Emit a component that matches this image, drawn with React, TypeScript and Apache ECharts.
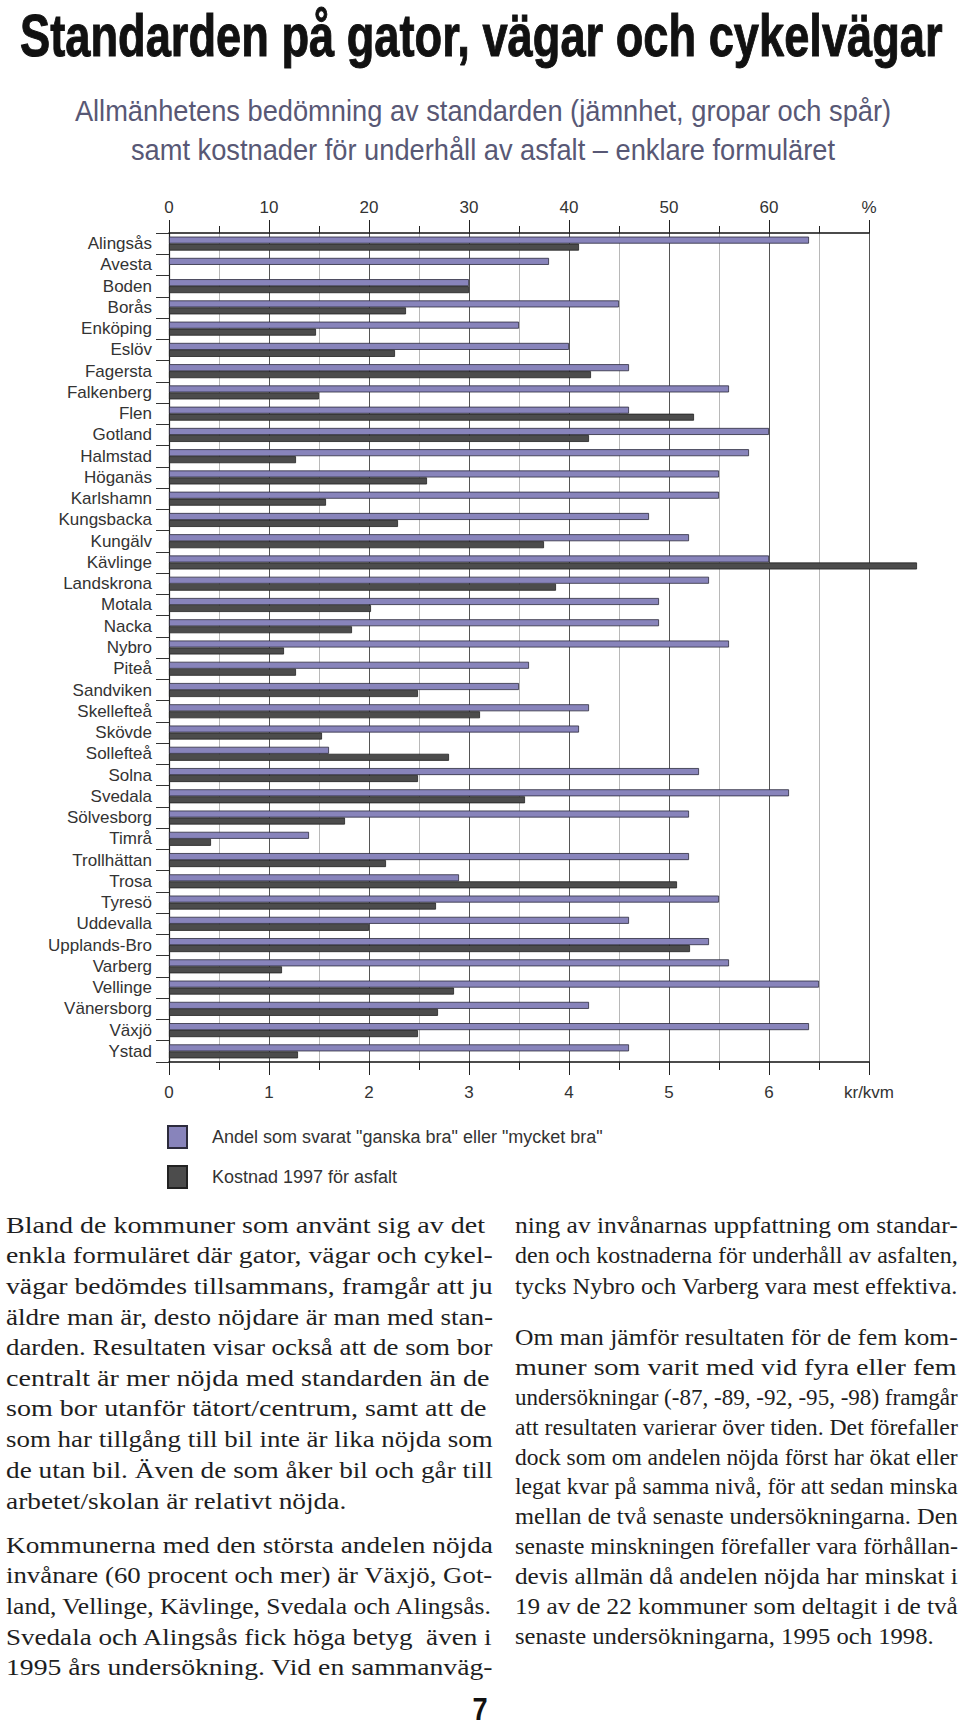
import React, { useEffect, useRef } from "react";
import * as echarts from "echarts";

// ---------------- DATA ----------------
const titleText = "Standarden på gator, vägar och cykelvägar";
const subtitleLines = [
  "Allmänhetens bedömning av standarden (jämnhet, gropar och spår)",
  "samt kostnader för underhåll av asfalt – enklare formuläret",
];

const municipalities = [
  "Alingsås", "Avesta", "Boden", "Borås", "Enköping", "Eslöv", "Fagersta", "Falkenberg",
  "Flen", "Gotland", "Halmstad", "Höganäs", "Karlshamn", "Kungsbacka", "Kungälv", "Kävlinge",
  "Landskrona", "Motala", "Nacka", "Nybro", "Piteå", "Sandviken", "Skellefteå", "Skövde",
  "Sollefteå", "Solna", "Svedala", "Sölvesborg", "Timrå", "Trollhättan", "Trosa", "Tyresö",
  "Uddevalla", "Upplands-Bro", "Varberg", "Vellinge", "Vänersborg", "Växjö", "Ystad",
];

// Andel som svarat "ganska bra" eller "mycket bra" (%)
const shareSatisfied = [
  64, 38, 30, 45, 35, 40, 46, 56,
  46, 60, 58, 55, 55, 48, 52, 60,
  54, 49, 49, 56, 36, 35, 42, 41,
  16, 53, 62, 52, 14, 52, 29, 55,
  46, 54, 56, 65, 42, 64, 46,
];

// Kostnad 1997 för asfalt (kr/kvm)
const asphaltCost1997 = [
  4.1, null, 3.0, 2.37, 1.47, 2.26, 4.22, 1.5,
  5.25, 4.2, 1.27, 2.58, 1.57, 2.29, 3.75, 7.48,
  3.87, 2.02, 1.83, 1.15, 1.27, 2.49, 3.11, 1.53,
  2.8, 2.49, 3.56, 1.76, 0.42, 2.17, 5.08, 2.67,
  2.0, 5.21, 1.13, 2.85, 2.69, 2.49, 1.29,
];

const seriesNames = [
  'Andel som svarat "ganska bra" eller "mycket bra"',
  "Kostnad 1997 för asfalt",
];
const percentUnit = "%";
const costUnit = "kr/kvm";

const leftParagraphs = [
  [
    "Bland de kommuner som använt sig av det",
    "enkla formuläret där gator, vägar och cykel-",
    "vägar bedömdes tillsammans, framgår att ju",
    "äldre man är, desto nöjdare är man med stan-",
    "darden. Resultaten visar också att de som bor",
    "centralt är mer nöjda med standarden än de",
    "som bor utanför tätort/centrum, samt att de",
    "som har tillgång till bil inte är lika nöjda som",
    "de utan bil. Även de som åker bil och går till",
    "arbetet/skolan är relativt nöjda.",
  ],
  [
    "Kommunerna med den största andelen nöjda",
    "invånare (60 procent och mer) är Växjö, Got-",
    "land, Vellinge, Kävlinge, Svedala och Alingsås.",
    "Svedala och Alingsås fick höga betyg  även i",
    "1995 års undersökning. Vid en sammanväg-",
  ],
];
const rightParagraphs = [
  [
    "ning av invånarnas uppfattning om standar-",
    "den och kostnaderna för underhåll av asfalten,",
    "tycks Nybro och Varberg vara mest effektiva.",
  ],
  [
    "Om man jämför resultaten för de fem kom-",
    "muner som varit med vid fyra eller fem",
    "undersökningar (-87, -89, -92, -95, -98) framgår",
    "att resultaten varierar över tiden. Det förefaller",
    "dock som om andelen nöjda först har ökat eller",
    "legat kvar på samma nivå, för att sedan minska",
    "mellan de två senaste undersökningarna. Den",
    "senaste minskningen förefaller vara förhållan-",
    "devis allmän då andelen nöjda har minskat i",
    "19 av de 22 kommuner som deltagit i de två",
    "senaste undersökningarna, 1995 och 1998.",
  ],
];
const pageNumber = "7";

// ---------------- STYLE ----------------
const SANS = '"Liberation Sans", Arial, sans-serif';
const SERIF = '"Liberation Serif", "Times New Roman", serif';
const PURPLE = "#8884bb";
const DARK = "#4c4c4c";

function measurer() {
  const c = document.createElement("canvas");
  const ctx = c.getContext("2d") as CanvasRenderingContext2D;
  return (text: string, font: string) => {
    ctx.font = font;
    return ctx.measureText(text).width;
  };
}

export default function App() {
  const ref = useRef<HTMLDivElement>(null);

  useEffect(() => {
    document.body.style.margin = "0";
    if (!ref.current) return;
    const chart = echarts.init(ref.current, undefined, { renderer: "svg" });
    const measure = measurer();

    const graphics: any[] = [];

    // Title
    const titleSize = 60;
    const titleFont = `bold ${titleSize}px ${SANS}`;
    const titleScale = 923 / measure(titleText, titleFont);
    graphics.push({
      type: "text",
      x: 20,
      y: 35,
      scaleX: titleScale,
      style: {
        text: titleText,
        fontFamily: SANS,
        fontSize: titleSize,
        fontWeight: "bold",
        fill: "#111",
        stroke: "#111",
        lineWidth: 1,
        textAlign: "left",
        textVerticalAlign: "middle",
        align: "left",
        verticalAlign: "middle",
      },
    });

    // Subtitle
    const subSize = 29;
    const subFont = `${subSize}px ${SANS}`;
    const subScale = 817 / measure(subtitleLines[0], subFont);
    const subY = [111, 150];
    subtitleLines.forEach((t, i) => {
      graphics.push({
        type: "text",
        x: 483,
        y: subY[i],
        scaleX: subScale,
        style: {
          text: t,
          fontFamily: SANS,
          fontSize: subSize,
          fill: "#585875",
          textAlign: "center",
          textVerticalAlign: "middle",
          align: "center",
          verticalAlign: "middle",
        },
      });
    });

    // Body text columns
    const bodySize = 23;
    const bodyFont = `${bodySize}px ${SERIF}`;
    const addColumn = (
      paras: string[][],
      x: number,
      width: number,
      starts: number[],
      steps: number[],
      lastJustified: boolean[]
    ) => {
      const scales: number[] = [];
      paras.forEach((p, pi) =>
        p.forEach((line, li) => {
          const last = li === p.length - 1 && !lastJustified[pi];
          if (!last) scales.push(width / measure(line, bodyFont));
        })
      );
      const avg = scales.reduce((a, b) => a + b, 0) / scales.length;
      paras.forEach((p, pi) =>
        p.forEach((line, li) => {
          const last = li === p.length - 1 && !lastJustified[pi];
          let s = last ? avg : width / measure(line, bodyFont);
          s = Math.max(0.85, Math.min(1.22, s));
          graphics.push({
            type: "text",
            x,
            y: starts[pi] + li * steps[pi],
            scaleX: s,
            style: {
              text: line,
              fontFamily: SERIF,
              fontSize: bodySize,
              fill: "#1e1e1e",
              textAlign: "left",
              textVerticalAlign: "middle",
              align: "left",
              verticalAlign: "middle",
            },
          });
        })
      );
    };
    addColumn(leftParagraphs, 6, 487, [1225, 1545], [30.6, 30.6], [false, true]);
    addColumn(rightParagraphs, 515, 443, [1225, 1337], [30.6, 29.9], [true, false]);

    graphics.push({
      type: "text",
      x: 480,
      y: 1709,
      scaleX: 0.85,
      style: {
        text: pageNumber,
        fontFamily: SANS,
        fontSize: 32,
        fontWeight: "bold",
        fill: "#111",
        textAlign: "center",
        textVerticalAlign: "middle",
        align: "center",
        verticalAlign: "middle",
      },
    });

    const axisText = { fontFamily: SANS, fontSize: 17, color: "#333" };

    const option: any = {
      animation: false,
      backgroundColor: "#ffffff",
      grid: { left: 169, right: 91, top: 233, bottom: 668, containLabel: false },
      legend: {
        orient: "vertical",
        left: 162,
        top: 1120,
        itemWidth: 19,
        itemHeight: 22,
        itemGap: 16,
        icon: "rect",
        selectedMode: false,
        data: seriesNames,
        textStyle: { fontFamily: SANS, fontSize: 18, color: "#333", padding: [0, 0, 0, 20] },
      },
      xAxis: [
        {
          type: "value",
          position: "bottom",
          min: 0,
          max: 7,
          interval: 1,
          axisLine: { show: true, onZero: false, lineStyle: { color: "#111", width: 1.5 } },
          axisTick: { show: true, length: 13, lineStyle: { color: "#222" } },
          minorTick: { show: true, splitNumber: 2, length: 8, lineStyle: { color: "#222" } },
          splitLine: { show: true, lineStyle: { color: "#555", width: 1 } },
          minorSplitLine: { show: true, lineStyle: { color: "#b8b8b8", width: 1 } },
          axisLabel: {
            ...axisText,
            margin: 22,
            formatter: (v: number) => (v === 7 ? costUnit : String(v)),
          },
        },
        {
          type: "value",
          position: "top",
          min: 0,
          max: 70,
          interval: 10,
          axisLine: { show: true, onZero: false, lineStyle: { color: "#111", width: 1.5 } },
          axisTick: { show: true, length: 13, lineStyle: { color: "#222" } },
          minorTick: { show: true, splitNumber: 2, length: 7, lineStyle: { color: "#222" } },
          splitLine: { show: false },
          axisLabel: {
            ...axisText,
            margin: 17,
            formatter: (v: number) => (v === 70 ? percentUnit : String(v)),
          },
        },
      ],
      yAxis: {
        type: "category",
        data: municipalities,
        inverse: true,
        axisLine: { show: true, lineStyle: { color: "#222", width: 1.2 } },
        axisTick: { show: true, length: 13, lineStyle: { color: "#333" } },
        axisLabel: { ...axisText, fontSize: 17, margin: 17, interval: 0 },
      },
      series: [
        {
          name: seriesNames[0],
          type: "bar",
          xAxisIndex: 1,
          data: shareSatisfied,
          barWidth: 7,
          barGap: "0%",
          clip: false,
          itemStyle: { color: PURPLE, borderColor: "#2c2b3c", borderWidth: 0.8 },
        },
        {
          name: seriesNames[1],
          type: "bar",
          xAxisIndex: 0,
          data: asphaltCost1997,
          barWidth: 7,
          barGap: "0%",
          clip: false,
          itemStyle: { color: DARK, borderColor: "#222", borderWidth: 0.8 },
        },
      ],
      graphic: { elements: graphics },
    };

    chart.setOption(option);
    return () => chart.dispose();
  }, []);

  return <div ref={ref} style={{ width: 960, height: 1730 }} />;
}
